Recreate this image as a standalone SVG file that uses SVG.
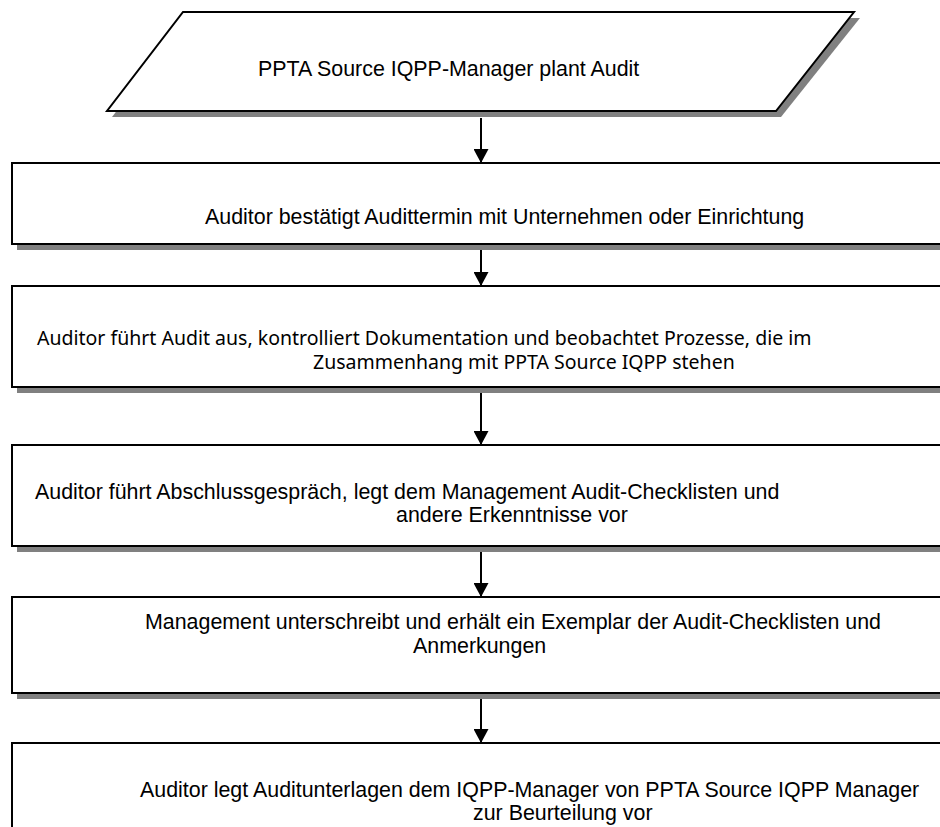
<svg xmlns="http://www.w3.org/2000/svg" width="940" height="827" viewBox="0 0 940 827">
<style>
.bg{fill:#ffffff}
.shape{fill:#ffffff;stroke:#000000;stroke-width:2}
.shadow{fill:#808080;stroke:none}
.t{font-family:"Liberation Sans",Arial,sans-serif;font-size:21.4px;fill:#000000}
.t2{font-family:"Noto Sans","DejaVu Sans",sans-serif;font-size:19.5px;fill:#000000}
.conn{stroke:#000000;stroke-width:2;fill:none}
</style>
<defs>
<marker id="ah" markerUnits="userSpaceOnUse" viewBox="0 0 14 15" markerWidth="14" markerHeight="15" refX="14" refY="7.5" orient="auto">
<path d="M0,0 L14,7.5 L0,15 Z" fill="#000000"/>
</marker>
</defs>
<rect class="bg" x="0" y="0" width="940" height="827"/>
<g id="n0">
<polygon class="shadow" points="188,18 860,18 781,117 112,117"/>
<polygon class="shape" points="183,12 854,12 776,111 107,111"/>
<text class="t" x="258" y="76">PPTA Source IQPP-Manager plant Audit</text>
</g>
<g id="n1">
<rect class="shadow" x="17" y="169" width="940" height="81"/>
<rect class="shape" x="12" y="163" width="940" height="81"/>
<text class="t" x="205" y="224">Auditor bestätigt Audittermin mit Unternehmen oder Einrichtung</text>
</g>
<g id="n2">
<rect class="shadow" x="17" y="292" width="940" height="101"/>
<rect class="shape" x="12" y="286" width="940" height="101"/>
<text class="t2" x="37" y="345">Auditor führt Audit aus, kontrolliert Dokumentation und beobachtet Prozesse, die im</text>
<text class="t2" x="313" y="369">Zusammenhang mit PPTA Source IQPP stehen</text>
</g>
<g id="n3">
<rect class="shadow" x="17" y="451" width="940" height="101"/>
<rect class="shape" x="12" y="445" width="940" height="101"/>
<text class="t" x="35" y="499">Auditor führt Abschlussgespräch, legt dem Management Audit-Checklisten und</text>
<text class="t" x="396" y="522">andere Erkenntnisse vor</text>
</g>
<g id="n4">
<rect class="shadow" x="17" y="603" width="940" height="96"/>
<rect class="shape" x="12" y="597" width="940" height="96"/>
<text class="t" x="145" y="629">Management unterschreibt und erhält ein Exemplar der Audit-Checklisten und</text>
<text class="t" x="413" y="653">Anmerkungen</text>
</g>
<g id="n5">
<rect class="shadow" x="17" y="749" width="940" height="100"/>
<rect class="shape" x="12" y="743" width="940" height="100"/>
<text class="t" x="140" y="797">Auditor legt Auditunterlagen dem IQPP-Manager von PPTA Source IQPP Manager</text>
<text class="t" x="473" y="820">zur Beurteilung vor</text>
</g>
<g id="connectors">
<line class="conn" x1="481" y1="118" x2="481" y2="163" marker-end="url(#ah)"/>
<line class="conn" x1="481" y1="250" x2="481" y2="286" marker-end="url(#ah)"/>
<line class="conn" x1="481" y1="393" x2="481" y2="445" marker-end="url(#ah)"/>
<line class="conn" x1="481" y1="552" x2="481" y2="597" marker-end="url(#ah)"/>
<line class="conn" x1="481" y1="699" x2="481" y2="743" marker-end="url(#ah)"/>
</g>
</svg>
